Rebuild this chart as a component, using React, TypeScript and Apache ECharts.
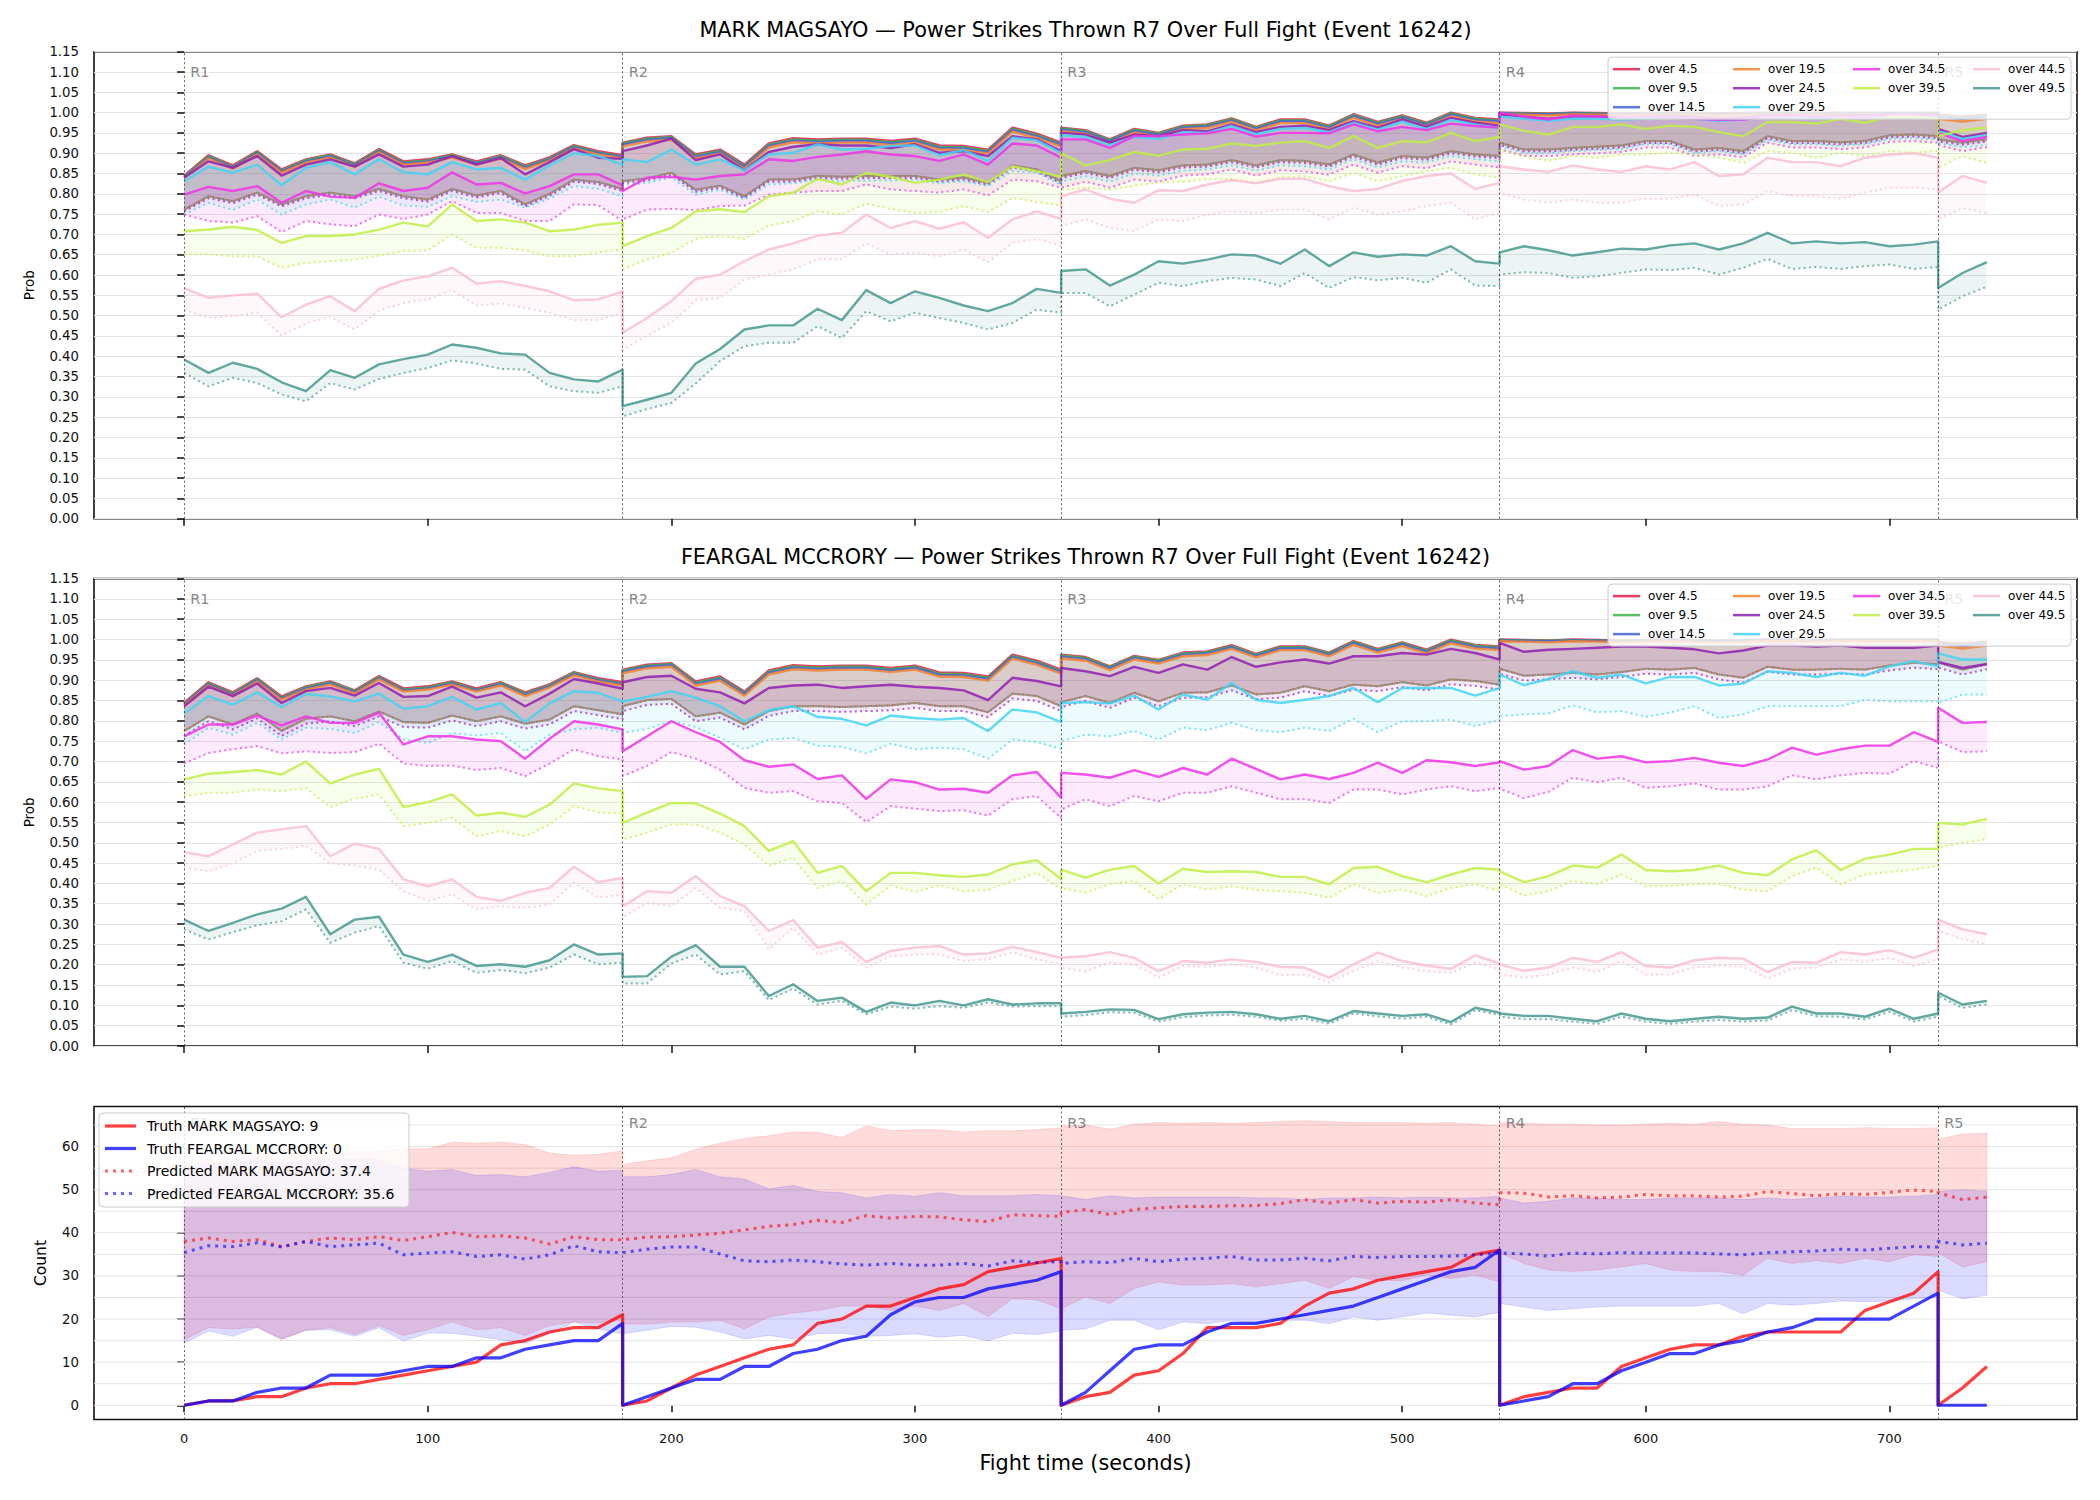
import React, { useEffect, useRef } from "react";
import * as echarts from "echarts";

const FONT = '"DejaVu Sans", "Liberation Sans", sans-serif';

// ---------------- time grid (10 s samples per round) ----------------
const ROUND_STARTS = [0, 180, 360, 540, 720];
const ROUND_ENDS = [180, 360, 540, 720, 740];
const ROUND_LABELS = ["R1", "R2", "R3", "R4", "R5"];
const SAMPLE_STEP = 10;
const TIMES: number[] = [];
ROUND_STARTS.forEach((s, i) => {
  for (let t = s; t <= ROUND_ENDS[i]; t += SAMPLE_STEP) TIMES.push(t);
});

const X_TICKS = [0, 100, 200, 300, 400, 500, 600, 700];
const COUNT_TICKS = [0, 10, 20, 30, 40, 50, 60];
const COUNT_GRID = [0, 5, 10, 15, 20, 25, 30, 35, 40, 45, 50, 55, 60, 65];

const THRESH_LABELS = ["over 4.5", "over 9.5", "over 14.5", "over 19.5", "over 24.5", "over 29.5", "over 34.5", "over 39.5", "over 44.5", "over 49.5"];
const THRESH_COLORS = ["#e6194b", "#3cb44b", "#4363d8", "#f58231", "#911eb4", "#42d4f4", "#f032e6", "#bfef45", "#fabed4", "#469990"];
const LEGEND_COL_SIZES = [3, 3, 2, 2];

const TITLE_1 = "MARK MAGSAYO \u2014 Power Strikes Thrown R7 Over Full Fight (Event 16242)";
const TITLE_2 = "FEARGAL MCCRORY \u2014 Power Strikes Thrown R7 Over Full Fight (Event 16242)";

// ---------------- top cluster (shared by both fighters' panels) ----------------
const TOP_S45 = [
  .845,.895,.87,.905,.86,.885,.897,.875,.91,.88,.885,.897,.88,.895,.87,.89,.92,.905,.895,
  .926,.938,.942,.897,.909,.872,.924,.937,.934,.936,.936,.93,.936,.919,.918,.909,.963,.948,.926,
  .963,.957,.934,.96,.95,.968,.971,.986,.965,.983,.983,.968,.996,.977,.993,.975,1.0,.987,.983,
  1.0,.999,.998,1.0,.999,.998,.999,1.0,.999,.998,.999,1.0,1.0,.999,1.0,1.0,1.0,1.0,1.0,
  .995,.99,.995];
const TOP_S95 = [
  .843,.893,.867,.903,.857,.883,.895,.873,.908,.877,.882,.895,.877,.893,.867,.887,.918,.902,.892,
  .924,.936,.94,.894,.906,.869,.921,.934,.931,.933,.933,.927,.933,.916,.915,.906,.96,.945,.923,
  .961,.955,.932,.958,.948,.966,.969,.984,.963,.981,.981,.966,.994,.975,.991,.973,.998,.985,.981,
  .999,.998,.997,.999,.998,.997,.998,.999,.998,.997,.998,.999,.999,.998,.999,.999,.999,.999,.999,
  .993,.987,.993];
const TOP_S145 = [
  .841,.89,.865,.9,.855,.88,.892,.87,.905,.875,.88,.892,.875,.89,.864,.885,.915,.9,.89,
  .921,.933,.937,.891,.903,.866,.918,.931,.928,.93,.93,.924,.93,.913,.912,.903,.957,.942,.92,
  .958,.952,.929,.955,.945,.963,.966,.981,.96,.978,.978,.963,.991,.972,.988,.97,.995,.982,.978,
  .998,.997,.996,.998,.997,.996,.997,.998,.997,.996,.997,.998,.998,.997,.998,.998,.998,.998,.998,
  .99,.984,.99];
const TOP_S195 = [
  .839,.887,.862,.897,.852,.877,.889,.867,.902,.872,.877,.889,.872,.887,.861,.882,.912,.897,.887,
  .917,.929,.933,.887,.899,.862,.914,.927,.924,.926,.926,.92,.926,.909,.908,.899,.953,.938,.916,
  .954,.948,.925,.951,.941,.959,.962,.977,.956,.974,.974,.959,.987,.968,.984,.966,.991,.978,.974,
  .996,.995,.993,.996,.995,.994,.995,.996,.995,.993,.995,.996,.996,.995,.996,.996,.996,.996,.996,
  .985,.978,.985];

// ---------------- MARK MAGSAYO panel ----------------
const P1_S245 = [
  .84,.88,.864,.893,.845,.872,.885,.867,.897,.867,.872,.893,.872,.888,.848,.878,.91,.889,.886,
  .905,.919,.936,.883,.897,.858,.903,.916,.922,.919,.919,.913,.922,.901,.905,.893,.942,.934,.905,
  .95,.946,.926,.946,.942,.957,.954,.971,.952,.965,.968,.957,.979,.963,.983,.965,.987,.975,.968,
  .995,.99,.985,.99,.99,.988,.99,.992,.99,.985,.988,.993,.993,.99,.993,.993,.995,.995,.995,
  .96,.94,.95];
const P1_S295 = [
  .831,.867,.852,.872,.821,.864,.878,.848,.885,.853,.848,.878,.86,.864,.835,.87,.90,.893,.872,
  .885,.878,.909,.872,.885,.858,.897,.901,.922,.909,.911,.918,.919,.895,.908,.881,.938,.932,.901,
  .945,.94,.92,.94,.935,.952,.95,.967,.947,.96,.962,.952,.975,.958,.978,.96,.982,.97,.962,
  .99,.985,.98,.985,.985,.983,.985,.988,.985,.98,.983,.99,.99,.985,.99,.99,.992,.992,.99,
  .955,.935,.945];
const P1_S345 = [
  .798,.817,.807,.819,.778,.807,.793,.79,.826,.807,.815,.853,.823,.827,.801,.819,.848,.848,.821,
  .807,.84,.842,.835,.844,.848,.885,.881,.891,.897,.905,.897,.893,.881,.897,.872,.924,.919,.889,
  .934,.934,.913,.942,.942,.946,.949,.96,.941,.95,.95,.949,.971,.954,.965,.957,.973,.967,.963,
  1.0,.99,.983,.993,.99,.99,.99,.988,.985,.982,.983,.99,.992,.99,.99,.99,.993,.993,.99,
  .95,.93,.94];
const P1_S395 = [
  .708,.712,.719,.711,.679,.696,.696,.70,.712,.729,.72,.774,.733,.737,.729,.708,.712,.724,.729,
  .671,.696,.716,.757,.762,.755,.794,.803,.837,.823,.852,.842,.827,.835,.848,.829,.868,.856,.842,
  .901,.87,.883,.903,.894,.909,.911,.924,.918,.926,.93,.913,.942,.913,.93,.927,.95,.93,.94,
  .971,.955,.946,.965,.965,.971,.96,.968,.965,.952,.942,.977,.977,.973,.985,.975,.99,.99,.985,
  .942,.957,.963];
const P1_S445 = [
  .568,.544,.55,.554,.496,.527,.548,.511,.566,.587,.597,.618,.579,.585,.573,.56,.538,.54,.56,
  .458,.494,.536,.591,.601,.634,.663,.678,.697,.704,.749,.716,.733,.714,.73,.692,.737,.757,.738,
  .794,.811,.788,.778,.809,.807,.823,.834,.826,.837,.837,.819,.807,.812,.832,.844,.85,.812,.827,
  .868,.86,.854,.87,.86,.854,.868,.86,.878,.844,.848,.889,.878,.878,.868,.889,.897,.90,.889,
  .803,.844,.827];
const P1_S495 = [
  .392,.359,.384,.369,.336,.314,.366,.347,.38,.393,.404,.429,.421,.407,.404,.359,.343,.338,.367,
  .277,.293,.31,.382,.418,.466,.476,.476,.517,.489,.563,.531,.56,.544,.525,.511,.531,.566,.556,
  .61,.614,.574,.601,.634,.628,.638,.651,.648,.628,.663,.622,.656,.645,.651,.648,.671,.634,.628,
  .656,.671,.661,.648,.656,.665,.663,.673,.678,.663,.678,.704,.678,.683,.678,.681,.671,.675,.683,
  .568,.605,.632];
const P1_DTOP = [
  .761,.794,.782,.803,.774,.794,.803,.794,.812,.794,.786,.812,.796,.807,.774,.80,.835,.829,.812,
  .831,.838,.852,.81,.82,.794,.835,.835,.844,.842,.844,.844,.844,.835,.84,.827,.87,.86,.831,
  .844,.856,.844,.864,.858,.87,.872,.883,.87,.883,.881,.872,.897,.877,.893,.889,.905,.897,.893,
  .926,.909,.909,.913,.916,.919,.93,.93,.909,.913,.905,.942,.93,.93,.927,.93,.944,.946,.942,
  .934,.926,.934];
const P1_D245 = [
  .757,.789,.777,.798,.769,.789,.798,.789,.807,.789,.781,.807,.791,.802,.769,.795,.83,.824,.807,
  .826,.833,.847,.805,.815,.789,.83,.83,.839,.837,.839,.839,.839,.83,.835,.822,.865,.855,.826,
  .839,.851,.839,.859,.853,.865,.867,.878,.865,.878,.876,.867,.892,.872,.888,.884,.90,.892,.888,
  .921,.904,.904,.908,.911,.914,.925,.925,.904,.908,.90,.937,.925,.925,.922,.925,.939,.941,.937,
  .929,.921,.929];
const P1_D295 = [
  .749,.778,.76,.786,.749,.774,.786,.766,.793,.771,.768,.794,.78,.786,.766,.788,.819,.812,.794,
  .821,.827,.84,.798,.81,.786,.823,.826,.835,.831,.833,.833,.835,.826,.831,.819,.856,.852,.823,
  .83,.843,.83,.85,.845,.857,.86,.87,.857,.87,.868,.86,.885,.865,.88,.877,.893,.885,.88,
  .918,.90,.90,.905,.908,.91,.922,.922,.90,.905,.897,.933,.922,.922,.918,.922,.935,.937,.933,
  .925,.915,.92];
const P1_D345 = [
  .749,.733,.729,.745,.706,.733,.725,.72,.749,.738,.749,.782,.753,.753,.733,.733,.774,.772,.733,
  .737,.761,.763,.76,.77,.771,.798,.803,.807,.807,.823,.811,.807,.803,.811,.796,.835,.831,.815,
  .815,.83,.815,.835,.83,.845,.848,.86,.845,.858,.855,.847,.872,.852,.868,.863,.88,.872,.865,
  .91,.893,.893,.897,.90,.903,.914,.914,.893,.897,.89,.926,.914,.914,.91,.914,.928,.93,.926,
  .92,.905,.915];
const P1_D395 = [
  .651,.651,.646,.646,.618,.63,.634,.638,.648,.659,.661,.70,.667,.667,.661,.646,.646,.656,.663,
  .614,.638,.655,.689,.696,.689,.722,.733,.757,.749,.776,.763,.753,.755,.77,.755,.79,.78,.771,
  .81,.815,.81,.82,.828,.83,.836,.837,.826,.84,.843,.831,.852,.831,.843,.856,.864,.848,.84,
  .909,.893,.881,.893,.889,.897,.897,.901,.897,.889,.876,.905,.901,.889,.901,.893,.905,.901,.905,
  .864,.893,.876];
const P1_D445 = [
  .515,.494,.499,.507,.451,.48,.497,.466,.513,.531,.54,.563,.525,.53,.519,.507,.489,.489,.507,
  .416,.451,.482,.538,.544,.589,.601,.614,.639,.639,.678,.651,.655,.646,.663,.632,.679,.689,.671,
  .72,.737,.716,.708,.737,.733,.749,.757,.752,.761,.761,.737,.766,.749,.757,.77,.778,.737,.753,
  .803,.786,.778,.786,.778,.778,.788,.788,.798,.77,.774,.807,.794,.794,.788,.803,.815,.815,.811,
  .737,.765,.753];
const P1_D495 = [
  .359,.326,.347,.334,.306,.289,.334,.318,.344,.359,.371,.39,.382,.369,.367,.326,.314,.31,.326,
  .252,.27,.285,.333,.388,.425,.433,.433,.474,.445,.511,.486,.507,.494,.482,.466,.482,.515,.507,
  .556,.556,.523,.552,.581,.573,.585,.593,.589,.573,.605,.568,.595,.587,.593,.581,.614,.574,.573,
  .601,.607,.605,.593,.597,.605,.614,.612,.618,.601,.618,.64,.615,.62,.615,.622,.626,.615,.62,
  .515,.548,.571];

// ---------------- FEARGAL MCCRORY panel ----------------
const P2_S245 = [
  .836,.884,.861,.892,.844,.873,.881,.862,.893,.859,.861,.884,.857,.87,.836,.867,.903,.892,.879,
  .895,.908,.911,.879,.87,.843,.881,.887,.889,.881,.885,.889,.884,.881,.875,.851,.906,.898,.885,
  .93,.922,.91,.933,.918,.939,.926,.957,.933,.944,.951,.941,.959,.959,.967,.963,.977,.967,.951,
  .992,.97,.975,.977,.98,.983,.983,.98,.976,.966,.973,.985,.985,.983,.985,.98,.98,.98,.985,
  .945,.93,.94];
const P2_S295 = [
  .818,.861,.84,.87,.834,.866,.86,.848,.867,.83,.836,.859,.828,.844,.797,.843,.873,.869,.848,
  .848,.859,.873,.857,.836,.799,.826,.836,.81,.805,.789,.813,.807,.803,.807,.775,.828,.821,.797,
  .844,.846,.843,.862,.828,.865,.852,.893,.852,.844,.852,.861,.881,.846,.881,.881,.881,.862,.881,
  .914,.888,.903,.922,.906,.914,.892,.908,.908,.887,.892,.922,.918,.908,.918,.911,.934,.947,.934,
  .966,.951,.951];
const P2_S345 = [
  .762,.791,.791,.813,.789,.811,.795,.795,.82,.742,.762,.762,.754,.75,.707,.756,.799,.791,.779,
  .725,.762,.799,.772,.748,.703,.687,.693,.657,.666,.608,.656,.649,.631,.633,.623,.666,.674,.611,
  .672,.668,.66,.679,.662,.684,.668,.707,.682,.656,.668,.657,.672,.697,.672,.703,.698,.689,.698,
  .701,.68,.689,.728,.707,.713,.698,.701,.709,.697,.689,.705,.734,.717,.73,.739,.739,.772,.748,
  .832,.795,.797];
const P2_S395 = [
  .656,.67,.674,.679,.668,.70,.646,.668,.682,.588,.60,.619,.567,.574,.564,.594,.646,.634,.627,
  .549,.574,.598,.597,.572,.541,.48,.504,.426,.443,.381,.426,.426,.42,.416,.422,.447,.457,.411,
  .434,.414,.434,.443,.40,.436,.428,.43,.428,.416,.416,.398,.438,.441,.418,.403,.422,.438,.434,
  .43,.403,.418,.444,.439,.471,.433,.43,.433,.444,.426,.42,.459,.482,.433,.461,.471,.485,.485,
  .549,.545,.559];
const P2_S445 = [
  .477,.467,.496,.525,.533,.541,.467,.498,.485,.41,.393,.41,.367,.357,.377,.389,.441,.403,.414,
  .343,.381,.377,.418,.369,.344,.283,.31,.242,.256,.207,.234,.242,.246,.225,.228,.244,.231,.217,
  .217,.221,.231,.217,.184,.209,.205,.213,.207,.195,.193,.168,.201,.23,.209,.198,.19,.223,.203,
  .201,.185,.193,.217,.207,.231,.197,.193,.211,.217,.215,.182,.207,.205,.231,.225,.236,.217,.238,
  .311,.287,.275];
const P2_S495 = [
  .311,.283,.303,.324,.338,.367,.275,.311,.318,.225,.207,.225,.197,.201,.195,.211,.25,.225,.228,
  .17,.172,.22,.248,.195,.195,.123,.152,.111,.119,.084,.107,.10,.111,.10,.115,.102,.105,.105,
  .08,.084,.09,.089,.066,.078,.082,.084,.078,.067,.074,.061,.086,.08,.074,.078,.059,.094,.082,
  .08,.074,.074,.067,.061,.08,.067,.061,.067,.072,.067,.07,.097,.08,.08,.072,.092,.067,.08,
  .131,.102,.111];
const P2_DTOP = [
  .775,.811,.791,.818,.775,.805,.811,.799,.823,.797,.795,.813,.799,.811,.793,.803,.836,.826,.816,
  .836,.851,.854,.811,.82,.791,.824,.836,.836,.834,.836,.838,.844,.836,.836,.821,.867,.861,.836,
  .846,.861,.844,.869,.848,.869,.87,.887,.865,.869,.885,.873,.889,.885,.895,.887,.902,.898,.889,
  .928,.911,.914,.918,.914,.92,.928,.926,.93,.914,.906,.933,.926,.926,.928,.926,.936,.943,.939,
  .943,.926,.939];
const P2_D245 = [
  .763,.799,.779,.806,.763,.793,.799,.787,.811,.785,.783,.801,.787,.799,.781,.791,.824,.814,.804,
  .824,.839,.842,.799,.808,.779,.812,.824,.824,.822,.824,.826,.832,.824,.824,.809,.855,.849,.824,
  .834,.849,.832,.857,.836,.857,.858,.875,.853,.857,.873,.861,.877,.873,.883,.875,.89,.886,.877,
  .916,.899,.902,.906,.902,.908,.916,.914,.918,.902,.894,.921,.914,.914,.916,.914,.924,.931,.927,
  .931,.914,.927];
const P2_D295 = [
  .742,.783,.766,.795,.754,.783,.78,.77,.797,.754,.746,.77,.764,.77,.725,.766,.779,.783,.77,
  .77,.78,.799,.785,.758,.73,.754,.758,.739,.736,.72,.744,.73,.734,.73,.707,.754,.748,.731,
  .75,.766,.762,.775,.754,.783,.777,.795,.777,.772,.783,.775,.805,.772,.799,.799,.803,.787,.802,
  .811,.816,.818,.838,.821,.824,.81,.82,.836,.807,.816,.836,.836,.836,.836,.852,.848,.848,.848,
  .844,.865,.865];
const P2_D345 = [
  .695,.721,.73,.738,.72,.725,.721,.723,.744,.695,.689,.69,.679,.684,.664,.695,.73,.713,.705,
  .664,.689,.723,.707,.68,.635,.623,.627,.602,.598,.551,.59,.584,.578,.58,.567,.607,.615,.561,
  .582,.607,.59,.615,.602,.623,.623,.639,.623,.607,.607,.598,.631,.631,.619,.631,.639,.627,.635,
  .633,.61,.625,.66,.649,.66,.635,.639,.646,.631,.631,.639,.666,.656,.666,.672,.67,.701,.684,
  .75,.723,.725];
const P2_D395 = [
  .615,.623,.623,.631,.627,.635,.588,.608,.619,.541,.549,.561,.516,.529,.516,.545,.59,.575,.572,
  .508,.525,.545,.545,.525,.496,.443,.463,.389,.406,.348,.395,.379,.395,.381,.384,.406,.426,.385,
  .389,.377,.398,.406,.361,.398,.385,.393,.384,.381,.377,.365,.398,.377,.385,.369,.389,.398,.381,
  .398,.37,.381,.406,.398,.422,.393,.393,.398,.398,.385,.381,.418,.439,.398,.422,.428,.434,.443,
  .488,.50,.508];
const P2_D445 = [
  .439,.43,.449,.48,.485,.493,.449,.444,.434,.381,.357,.373,.336,.344,.34,.348,.402,.365,.373,
  .316,.352,.344,.389,.34,.332,.238,.291,.225,.242,.193,.221,.225,.225,.209,.213,.23,.213,.201,
  .193,.184,.205,.201,.168,.197,.195,.201,.193,.174,.176,.156,.184,.209,.193,.184,.18,.205,.189,
  .176,.168,.176,.193,.182,.209,.176,.176,.193,.197,.195,.166,.19,.193,.213,.207,.217,.197,.213,
  .283,.262,.25];
const P2_D495 = [
  .287,.262,.28,.297,.307,.336,.254,.279,.295,.205,.19,.209,.18,.187,.179,.193,.225,.201,.205,
  .154,.154,.203,.225,.176,.184,.113,.141,.102,.111,.078,.097,.092,.098,.094,.107,.097,.098,.098,
  .072,.076,.083,.082,.06,.071,.075,.077,.072,.062,.067,.055,.08,.073,.067,.072,.053,.088,.076,
  .072,.066,.066,.06,.054,.072,.06,.054,.06,.064,.06,.063,.088,.073,.072,.065,.084,.06,.072,
  .123,.094,.102];

// ---------------- count panel ----------------
const TRUTH_MARK = [
  0,1,1,2,2,4,5,5,6,7,8,9,10,14,15,17,18,18,21,
  0,1,4,7,9,11,13,14,19,20,23,23,25,27,28,31,32,33,34,
  0,2,3,7,8,12,18,18,18,19,23,26,27,29,30,31,32,35,36,
  0,2,3,4,4,9,11,13,14,14,16,17,17,17,17,22,24,26,31,
  0,4,9];
const TRUTH_FEARGAL = [
  0,1,1,3,4,4,7,7,7,8,9,9,11,11,13,14,15,15,19,
  0,2,4,6,6,9,9,12,13,15,16,21,24,25,25,27,28,29,31,
  0,3,8,13,14,14,17,19,19,20,21,22,23,25,27,29,31,32,36,
  0,1,2,5,5,8,10,12,12,14,15,17,18,20,20,20,20,23,26,
  0,0,0];
const PRED_MARK = [
  38,38.8,38,38.4,36.8,38,38.8,38.4,39.1,38.2,39.1,40.1,39.1,39.3,38.8,37.4,39.1,38.4,38.4,
  38.4,39,39.1,39.5,39.9,40.7,41.5,41.9,42.9,42.4,44,43.4,43.8,43.7,43,42.6,44.2,44,43.8,
  44.7,45.4,44.2,45.4,45.8,46.1,46.1,46.3,46.3,46.8,47.7,46.9,47.7,46.9,47.3,47.1,47.7,46.9,46.5,
  49.3,49.2,48.3,48.6,48.1,48.3,48.9,48.6,48.6,48.3,48.5,49.6,49.1,48.6,49.1,48.9,49.4,49.9,49.6,
  49.3,47.7,48.3];
const PRED_FEARGAL = [
  35.4,37,36.8,37.7,36.7,38,36.8,37.2,37.6,34.9,35.3,35.6,34.5,34.9,33.9,34.9,37,35.6,35.4,
  35.4,36.2,36.7,36.7,35.1,33.5,33.3,33.7,33.3,32.8,32.5,32.9,32.5,32.5,32.9,32.3,33.5,33.1,33.3,
  32.9,33.3,33.1,34.1,33.3,33.9,34.1,34.5,33.7,33.7,34.1,33.5,34.5,34.3,34.5,34.5,34.6,34.9,35.3,
  35.3,35.1,34.6,35.3,35.1,35.4,35.3,35.3,35.3,35.1,34.9,35.4,35.6,35.8,36.2,36,36.4,36.8,36.7,
  38,37.2,37.6];
const BAND_MARK_HI = [
  56,57,57,58,57,58,58,59,59,59.5,59.5,61,60.8,61,60.5,58.5,58,58.2,59,
  55.9,56.7,57.4,59.4,60.8,61.9,62.5,63.4,63.3,62.1,64.8,63.7,63.9,63.9,63.4,63.7,63.7,63.9,64.4,
  64.7,65,64,65.2,65.6,65.4,65.6,65.4,65.6,65.8,66,65.8,65.6,65.6,65.6,65.4,65.6,65.2,64.8,
  65.6,65.4,65.2,65.2,65,65,65.2,65.4,65.2,65.8,65.2,65,64.2,64.2,64.2,64.4,64.2,64.2,64.4,
  61.7,62.9,63.1];
const BAND_MARK_LO = [
  15.2,18,17.7,18.1,15.2,17.4,18,16.4,18.5,16.2,17.5,19.3,17.5,18,16.2,18.5,19.3,19.1,19.7,
  18.9,18.8,19.3,19.3,19.7,17.7,20.5,21.4,22,23,23,22,23,22,23.6,20.6,24.7,24.5,22.4,
  22.4,25.1,23.6,27.1,28.6,27.9,27.9,28.2,27.5,28.2,29,27.1,29.8,29,28.9,30.2,29.4,30.2,28.6,
  35.3,32.9,31.4,31,31.4,32.1,32.9,31.4,31,31,30.2,34.1,32.9,33.5,32.9,34.1,33.3,34.9,34.5,
  35.3,32.1,33.3];
const BAND_FEARGAL_HI = [
  55,56,56,57,56,57,57,57,57,55,54.3,54.7,53.3,53.5,53,54,55.3,54.3,54.5,
  53,53,53.5,54.7,53,52.5,50.2,51,49.6,49.3,48.1,48.9,48.5,49.3,48.6,48.6,48.6,48.9,48.6,
  48.6,47.7,48.6,48.1,48.3,48.3,48.3,48.3,48.1,48.1,47.7,48.1,48.1,48.3,48.1,48.3,48.1,48.1,48.5,
  48.1,46.9,47.3,48.1,48.1,47.7,47.7,48.1,48.1,48.1,47.7,48.1,47.7,48.1,48.5,48.3,48.3,48.5,48.9,
  49.6,50,49.6];
const BAND_FEARGAL_LO = [
  14.4,17.2,16,18.1,15.4,17.4,17.5,16,18,14.9,16.7,16.7,16,15.2,14.4,16.6,19.3,17.7,16.6,
  16.6,17.4,18.3,18.1,17,15.4,16.2,15.4,16.6,16.7,16,16.2,16.6,15.8,16.2,14.9,16.7,16.4,17.2,
  17.4,17.7,19.7,19.7,17.5,19.3,18.9,19.7,18.9,19.7,19.7,18.9,20.5,19.7,20.5,21.4,20.9,20.5,21.6,
  23.6,22.8,22,22.4,22.8,23,23,23,23,23.6,21.2,23.6,23.2,23.6,24.2,24,24.2,24.7,25.1,
  26.7,24.7,25.5];
const PRED_FINAL_MARK = 37.4;
const PRED_FINAL_FEARGAL = 35.6;

const ALL_ARRAYS: Record<string, number[]> = {
  TOP_S45, TOP_S95, TOP_S145, TOP_S195,
  P1_S245, P1_S295, P1_S345, P1_S395, P1_S445, P1_S495,
  P1_DTOP, P1_D245, P1_D295, P1_D345, P1_D395, P1_D445, P1_D495,
  P2_S245, P2_S295, P2_S345, P2_S395, P2_S445, P2_S495,
  P2_DTOP, P2_D245, P2_D295, P2_D345, P2_D395, P2_D445, P2_D495,
  TRUTH_MARK, TRUTH_FEARGAL, PRED_MARK, PRED_FEARGAL,
  BAND_MARK_HI, BAND_MARK_LO, BAND_FEARGAL_HI, BAND_FEARGAL_LO,
};

const PROB_PANELS = [
  {
    title: TITLE_1,
    solids: [TOP_S45, TOP_S95, TOP_S145, TOP_S195, P1_S245, P1_S295, P1_S345, P1_S395, P1_S445, P1_S495],
    dots: [P1_DTOP, P1_DTOP, P1_DTOP, P1_DTOP, P1_D245, P1_D295, P1_D345, P1_D395, P1_D445, P1_D495],
  },
  {
    title: TITLE_2,
    solids: [TOP_S45, TOP_S95, TOP_S145, TOP_S195, P2_S245, P2_S295, P2_S345, P2_S395, P2_S445, P2_S495],
    dots: [P2_DTOP, P2_DTOP, P2_DTOP, P2_DTOP, P2_D245, P2_D295, P2_D345, P2_D395, P2_D445, P2_D495],
  },
];

// ---------------- layout ----------------
const PLOT_LEFT = 94;
const PLOT_RIGHT = 2077;
const PANELS = [
  { top: 51.7, height: 467, roundLabelDy: 13 },
  { top: 578.6, height: 467.4, roundLabelDy: 13 },
  { top: 1106.5, height: 313, roundLabelDy: 9 },
];
const X_MIN = -37;
const X_MAX = 777;
const PROB_MAX = 1.15;
const COUNT_MIN = -3.3;
const COUNT_MAX = 69.3;

function hexA(hex: string, a: number) {
  const n = parseInt(hex.slice(1), 16);
  return `rgba(${(n >> 16) & 255},${(n >> 8) & 255},${n & 255},${a})`;
}

function lineSeries(g: number, data: number[], color: string, width: number, type: any, opacity: number, dashOffset = 0) {
  return {
    type: "line",
    xAxisIndex: g,
    yAxisIndex: g,
    data: TIMES.map((t, i) => [t, data[i]]),
    showSymbol: false,
    symbol: "none",
    silent: true,
    animation: false,
    z: 3,
    lineStyle: { color, width, type, opacity, dashOffset, cap: "butt", join: "round" },
  };
}

function bandSeries(g: number, upper: number[], lower: number[], fill: string, stroke?: string) {
  return {
    type: "custom",
    xAxisIndex: g,
    yAxisIndex: g,
    silent: true,
    animation: false,
    clip: true,
    z: 2,
    data: [[TIMES[0], lower[0]]],
    renderItem: (_params: any, api: any) => {
      const pts: number[][] = [];
      for (let i = 0; i < TIMES.length; i++) pts.push(api.coord([TIMES[i], upper[i]]));
      for (let i = TIMES.length - 1; i >= 0; i--) pts.push(api.coord([TIMES[i], lower[i]]));
      return {
        type: "polygon",
        shape: { points: pts },
        style: { fill, stroke: stroke || "none", lineWidth: 1 },
      };
    },
  };
}

function roundSeries(g: number, yTop: number) {
  return {
    type: "scatter",
    xAxisIndex: g,
    yAxisIndex: g,
    symbolSize: 0.01,
    clip: false,
    silent: true,
    animation: false,
    z: 6,
    itemStyle: { color: "rgba(0,0,0,0)" },
    data: ROUND_STARTS.map((t, i) => ({ value: [t, yTop], name: ROUND_LABELS[i] })),
    label: {
      show: true,
      formatter: "{b}",
      position: [6, PANELS[g].roundLabelDy],
      color: "#666",
      fontSize: 14.5,
      fontFamily: FONT,
    },
    markLine: {
      silent: true,
      symbol: "none",
      animation: false,
      label: { show: false },
      lineStyle: { color: "rgba(60,60,60,0.8)", type: [2, 2.5], width: 1 },
      data: ROUND_STARTS.map((t) => ({ xAxis: t })),
    },
  };
}

function txt(x: number, y: number, text: string, size: number, align = "left", color = "#000") {
  return {
    type: "text",
    z: 101,
    x,
    y,
    style: {
      text,
      fill: color,
      fontSize: size,
      fontFamily: FONT,
      align,
      verticalAlign: "middle",
      textAlign: align,
      textVerticalAlign: "middle",
    },
  };
}

function probLegend(top: number) {
  const els: any[] = [];
  els.push({
    type: "rect",
    z: 100,
    shape: { x: 1608, y: top + 5.5, width: 463, height: 62, r: 4 },
    style: { fill: "rgba(255,255,255,0.8)", stroke: "#cccccc", lineWidth: 1 },
  });
  let idx = 0;
  LEGEND_COL_SIZES.forEach((n, c) => {
    for (let r = 0; r < n; r++) {
      const i = idx++;
      const x0 = 1613 + 120 * c;
      const y = top + 17.5 + 19 * r;
      els.push({
        type: "line",
        z: 101,
        shape: { x1: x0, y1: y, x2: x0 + 27, y2: y },
        style: { stroke: THRESH_COLORS[i], opacity: 0.85, lineWidth: 2.5 },
      });
      els.push(txt(x0 + 35, y, THRESH_LABELS[i], 12));
    }
  });
  return els;
}

function countLegend() {
  const els: any[] = [];
  els.push({
    type: "rect",
    z: 100,
    shape: { x: 99, y: 1113, width: 310, height: 94, r: 4 },
    style: { fill: "rgba(255,255,255,0.8)", stroke: "#cccccc", lineWidth: 1 },
  });
  const entries = [
    { text: `Truth MARK MAGSAYO: ${TRUTH_MARK[TRUTH_MARK.length - 1]}`, color: "rgba(255,0,0,0.75)", dash: null },
    { text: `Truth FEARGAL MCCRORY: ${TRUTH_FEARGAL[TRUTH_FEARGAL.length - 1]}`, color: "rgba(0,0,255,0.75)", dash: null },
    { text: `Predicted MARK MAGSAYO: ${PRED_FINAL_MARK}`, color: "rgba(255,0,0,0.6)", dash: [3, 5] },
    { text: `Predicted FEARGAL MCCRORY: ${PRED_FINAL_FEARGAL}`, color: "rgba(0,0,255,0.6)", dash: [3, 5] },
  ];
  entries.forEach((e, r) => {
    const y = 1126 + 22.5 * r;
    els.push({
      type: "line",
      z: 101,
      shape: { x1: 105, y1: y, x2: 136, y2: y },
      style: { stroke: e.color, lineWidth: e.dash ? 3 : 3.2, lineDash: e.dash || undefined },
    });
    els.push(txt(147, y, e.text, 14));
  });
  return els;
}

function buildOption() {
  Object.keys(ALL_ARRAYS).forEach((k) => {
    if (ALL_ARRAYS[k].length !== TIMES.length) throw new Error(`${k} has ${ALL_ARRAYS[k].length} values, expected ${TIMES.length}`);
  });

  const series: any[] = [];
  const tickStyle = { color: "#111", width: 1.5 };

  PROB_PANELS.forEach((p, g) => {
    p.solids.forEach((s, i) => series.push(bandSeries(g, s, p.dots[i], hexA(THRESH_COLORS[i], 0.1))));
    p.dots.forEach((d, i) => series.push(lineSeries(g, d, THRESH_COLORS[i], 2, [2, 3.3], 0.7, i < 4 ? i * 1.3 : 0)));
    p.solids.forEach((s, i) => series.push(lineSeries(g, s, THRESH_COLORS[i], 2.4, "solid", 0.85)));
    series.push(roundSeries(g, PROB_MAX));
  });

  // count panel
  series.push({
    type: "custom",
    xAxisIndex: 2,
    yAxisIndex: 2,
    silent: true,
    animation: false,
    z: 1,
    data: COUNT_GRID.map((v) => [X_MIN, v]),
    renderItem: (_params: any, api: any) => {
      const v = api.value(1);
      const a = api.coord([X_MIN, v]);
      const b = api.coord([X_MAX, v]);
      return { type: "line", shape: { x1: a[0], y1: a[1], x2: b[0], y2: b[1] }, style: { stroke: "#e4e4e4", lineWidth: 1 } };
    },
  });
  series.push(bandSeries(2, BAND_MARK_HI, BAND_MARK_LO, "rgba(255,0,0,0.14)", "rgba(255,0,0,0.12)"));
  series.push(bandSeries(2, BAND_FEARGAL_HI, BAND_FEARGAL_LO, "rgba(0,0,255,0.14)", "rgba(0,0,255,0.12)"));
  series.push(lineSeries(2, TRUTH_MARK, "#ff0000", 3.2, "solid", 0.75));
  series.push(lineSeries(2, TRUTH_FEARGAL, "#0000ff", 3.2, "solid", 0.75));
  series.push(lineSeries(2, PRED_MARK, "#ff0000", 3, [3, 5], 0.6));
  series.push(lineSeries(2, PRED_FEARGAL, "#0000ff", 3, [3, 5], 0.6));
  series.push(roundSeries(2, COUNT_MAX));

  const graphic: any[] = [];
  PROB_PANELS.forEach((p, g) => {
    graphic.push(txt((PLOT_LEFT + PLOT_RIGHT) / 2, PANELS[g].top - 21.5, p.title, 20.8, "center"));
    graphic.push(...probLegend(PANELS[g].top));
  });
  graphic.push(...countLegend());

  return {
    animation: false,
    backgroundColor: "#ffffff",
    textStyle: { fontFamily: FONT },
    grid: PANELS.map((p) => ({
      left: PLOT_LEFT,
      top: p.top,
      width: PLOT_RIGHT - PLOT_LEFT,
      height: p.height,
      show: true,
      borderColor: "#111",
      borderWidth: 1.6,
      backgroundColor: "transparent",
      containLabel: false,
      outerBoundsMode: "none",
    })),
    xAxis: PANELS.map((_p, g) => ({
      type: "value",
      gridIndex: g,
      min: X_MIN,
      max: X_MAX,
      axisLine: { show: false },
      splitLine: { show: false },
      axisTick: { show: true, customValues: X_TICKS, length: 7, lineStyle: tickStyle },
      axisLabel: { show: g === 2, customValues: X_TICKS, fontSize: 13, color: "#111", margin: 12, fontFamily: FONT },
      name: g === 2 ? "Fight time (seconds)" : "",
      nameLocation: "middle",
      nameGap: 33,
      nameTextStyle: { fontSize: 20.8, color: "#000", fontFamily: FONT },
    })),
    yAxis: PANELS.map((_p, g) =>
      g < 2
        ? {
            type: "value",
            gridIndex: g,
            min: 0,
            max: PROB_MAX,
            interval: 0.05,
            axisLine: { show: false },
            axisTick: { show: true, length: 7, lineStyle: tickStyle },
            axisLabel: { fontSize: 13.3, color: "#111", margin: 15, fontFamily: FONT, formatter: (v: number) => v.toFixed(2) },
            splitLine: { show: true, lineStyle: { color: "#e4e4e4", width: 1 } },
            name: "Prob",
            nameLocation: "middle",
            nameGap: 58,
            nameTextStyle: { fontSize: 13.5, color: "#000", fontFamily: FONT },
          }
        : {
            type: "value",
            gridIndex: g,
            min: COUNT_MIN,
            max: COUNT_MAX,
            axisLine: { show: false },
            axisTick: { show: true, customValues: COUNT_TICKS, length: 7, lineStyle: tickStyle },
            axisLabel: { customValues: COUNT_TICKS, fontSize: 13.3, color: "#111", margin: 15, fontFamily: FONT },
            splitLine: { show: false },
            name: "Count",
            nameLocation: "middle",
            nameGap: 45,
            nameTextStyle: { fontSize: 15.5, color: "#000", fontFamily: FONT },
          }
    ),
    series,
    graphic: { elements: graphic },
  };
}

export default function App() {
  const ref = useRef<HTMLDivElement>(null);
  useEffect(() => {
    document.body.style.margin = "0";
    const chart = echarts.init(ref.current as HTMLDivElement, null, { renderer: "svg", width: 2100, height: 1500 });
    chart.setOption(buildOption() as any);
    return () => chart.dispose();
  }, []);
  return <div ref={ref} style={{ width: 2100, height: 1500 }} />;
}
